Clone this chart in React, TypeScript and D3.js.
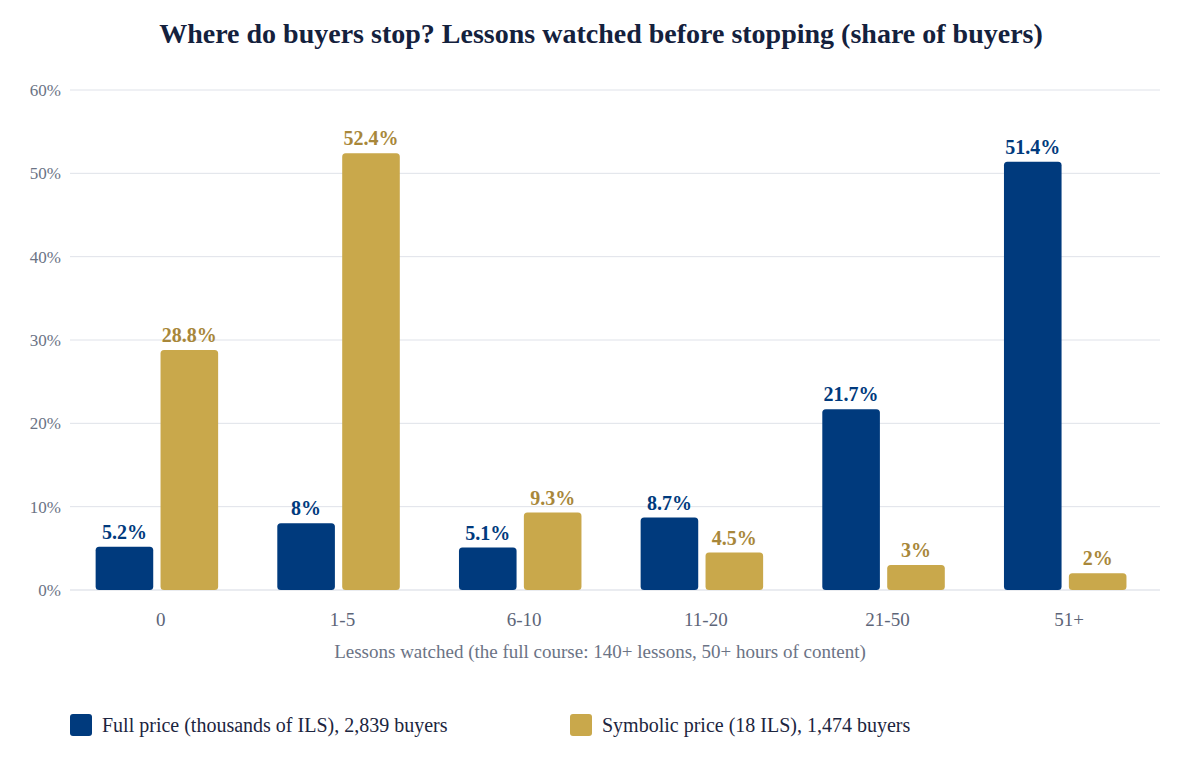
import React from "react";
import * as d3 from "d3";

const categories = ["0", "1-5", "6-10", "11-20", "21-50", "51+"];
const seriesNames = ["Full price (thousands of ILS), 2,839 buyers", "Symbolic price (18 ILS), 1,474 buyers"];
const fullPrice = [5.2, 8, 5.1, 8.7, 21.7, 51.4];
const symbolicPrice = [28.8, 52.4, 9.3, 4.5, 3, 2];
const yTicks = [0, 10, 20, 30, 40, 50, 60];

const barColors = ["#003a7d", "#c9a84b"];
const labelColors = ["#003a7d", "#a8873a"];

const FONT = "'Liberation Serif', 'Times New Roman', serif";

export default function App() {
    const width = 1200;
    const height = 760;
    const margin = { top: 90, right: 40, bottom: 170, left: 70 };

    const x = d3.scaleBand<string>()
        .domain(categories)
        .range([margin.left, width - margin.right])
        .padding(0);
    const inner = d3.scaleBand<number>()
        .domain([0, 1])
        .range([-65.2, 57.3])
        .paddingInner(0.1125);
    const y = d3.scaleLinear([0, 60], [height - margin.bottom, margin.top]);

    const series = [fullPrice, symbolicPrice];
    const fmt = (v: number) => `${d3.format("~")(v)}%`;

    return <svg width={width} height={height} style={{ position: "absolute", left: 0, top: 0, background: "#fff" }} fontFamily={FONT}>
        <text x={601} y={43} textAnchor="middle" fontSize={28} fontWeight="bold" fill="#14213d">
            Where do buyers stop? Lessons watched before stopping (share of buyers)
        </text>

        {/* Grid */}
        <g>
            {yTicks.map((t) => (
                <g key={t}>
                    <line x1={margin.left} x2={width - margin.right} y1={y(t)} y2={y(t)}
                        stroke={t === 0 ? "#d5d9e2" : "#dfe2e9"} strokeWidth={1} />
                    <text x={61} y={y(t)} dy="0.35em" textAnchor="end" fontSize={17} fill="#6b7385">{t}%</text>
                </g>
            ))}
        </g>

        {/* Bars */}
        <g>
            {categories.map((c, ci) => {
                const cx = x(c)! + x.bandwidth() / 2;
                return <g key={c}>
                    {series.map((s, si) => {
                        const bx = cx + inner(si)!;
                        const bw = inner.bandwidth();
                        const top = y(s[ci]);
                        return <g key={si}>
                            <rect x={bx} y={top} width={bw} height={y(0) - top} rx={3.5} ry={3.5} fill={barColors[si]} />
                            <text x={bx + bw / 2} y={top - 8} textAnchor="middle" fontSize={20} fontWeight="bold" fill={labelColors[si]}>
                                {fmt(s[ci])}
                            </text>
                        </g>;
                    })}
                    <text x={cx} y={626} textAnchor="middle" fontSize={19} fill="#5d6578">{c}</text>
                </g>;
            })}
        </g>

        <text x={600} y={658} textAnchor="middle" fontSize={19} fill="#6b7385">
            Lessons watched (the full course: 140+ lessons, 50+ hours of content)
        </text>

        {/* Legend */}
        <g>
            {seriesNames.map((n, i) => {
                const lx = i === 0 ? 70 : 570;
                return <g key={n}>
                    <rect x={lx} y={714} width={22} height={22} rx={3} fill={barColors[i]} />
                    <text x={lx + 32} y={725} dy="0.35em" fontSize={20} fill="#1c2540">{n}</text>
                </g>;
            })}
        </g>
    </svg>;
}
